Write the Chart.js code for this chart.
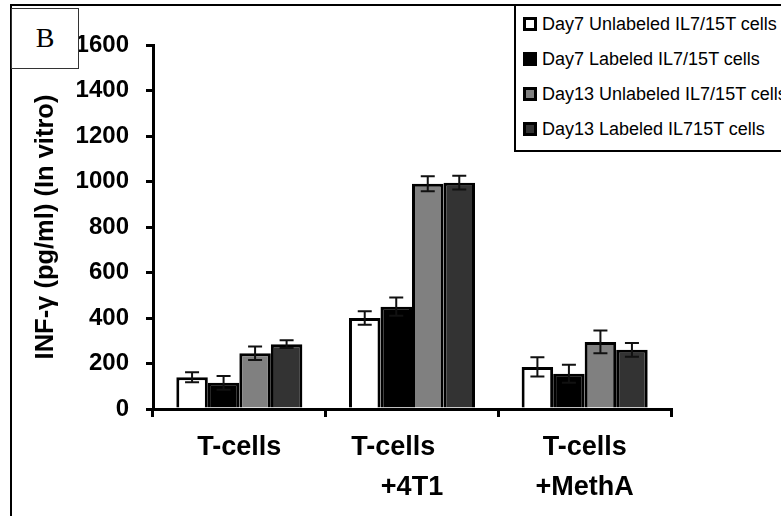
<!DOCTYPE html>
<html>
<head>
<meta charset="utf-8">
<script src="https://cdn.jsdelivr.net/npm/chart.js@4/dist/chart.umd.min.js"></script>
<style>
  html, body { margin: 0; padding: 0; background: #fff; overflow: hidden; }
  #wrap { position: relative; width: 781px; height: 516px; }
  #frame { position: absolute; left: 10px; top: 4px; width: 900px; height: 600px;
           border-left: 2px solid #000; border-top: 2px solid #000; }
  #panel { position: absolute; left: 11px; top: 8px; width: 66px; height: 59px;
           border: 1px solid #333; font: 28px "Liberation Serif", "Times New Roman", serif;
           text-align: center; line-height: 58px; background: #fff; }
  #legend { position: absolute; left: 514px; top: 4px; width: 300px; height: 144px;
            border-left: 2px solid #000; border-bottom: 2px solid #000; border-top: 2px solid #000;
            background: #fff; font: 18px "Liberation Sans", Arial, sans-serif; }
  .item { position: absolute; left: 7px; height: 20px; line-height: 20px; white-space: nowrap; }
  .box { display: inline-block; width: 8px; height: 8px; border: 3px solid #000;
         vertical-align: -1px; margin-right: 5px; }
  canvas { position: absolute; left: 0; top: 0; }
</style>
</head>
<body>
<div id="wrap">
  <canvas id="bar-chart" width="781" height="516"></canvas>
  <div id="frame"></div>
  <div id="panel">B</div>
  <div id="legend"></div>
</div>
<script>
var categories = [["T-cells"], ["T-cells     ", "+4T1"], ["T-cells", "+MethA"]];
var seriesNames = ["Day7 Unlabeled IL7/15T cells", "Day7 Labeled IL7/15T cells",
                   "Day13 Unlabeled IL7/15T cells", "Day13 Labeled IL715T cells"];
var seriesColors = ["#ffffff", "#000000", "#808080", "#333333"];

var day7Unlabeled = [140, 400, 185];
var day7Labeled = [115, 450, 155];
var day13Unlabeled = [245, 990, 295];
var day13Labeled = [285, 995, 260];

var day7UnlabeledErr = [22, 30, 42];
var day7LabeledErr = [30, 40, 40];
var day13UnlabeledErr = [30, 33, 50];
var day13LabeledErr = [17, 30, 30];

var yTicks = [0, 200, 400, 600, 800, 1000, 1200, 1400, 1600];

var values = [day7Unlabeled, day7Labeled, day13Unlabeled, day13Labeled];
var errors = [day7UnlabeledErr, day7LabeledErr, day13UnlabeledErr, day13LabeledErr];

Chart.defaults.font.family = "'Liberation Sans', Arial, sans-serif";
Chart.defaults.color = "#000";

var errorBars = {
  id: "errorBars",
  afterDatasetsDraw: function (chart) {
    var c = chart.ctx;
    var y = chart.scales.y;
    c.save();
    c.strokeStyle = "#111";
    c.lineWidth = 2;
    chart.data.datasets.forEach(function (ds, i) {
      var meta = chart.getDatasetMeta(i);
      meta.data.forEach(function (bar, j) {
        var v = ds.data[j], e = errors[i][j];
        var top = y.getPixelForValue(v + e), bot = y.getPixelForValue(v - e);
        var x = bar.x, w = 7;
        c.beginPath();
        c.moveTo(x, top); c.lineTo(x, bot);
        c.moveTo(x - w, top); c.lineTo(x + w, top);
        c.moveTo(x - w, bot); c.lineTo(x + w, bot);
        c.stroke();
      });
    });
    c.restore();
  }
};

var ctx = document.getElementById("bar-chart");
var chart = new Chart(ctx, {
  type: "bar",
  data: {
    labels: categories,
    datasets: values.map(function (d, i) {
      return {
        label: seriesNames[i],
        data: d,
        backgroundColor: seriesColors[i],
        borderColor: "#000",
        borderWidth: 3,
        categoryPercentage: 0.73,
        barPercentage: 1.0
      };
    })
  },
  options: {
    responsive: false,
    animation: false,
    layout: { padding: { left: 0, top: 45, right: 110, bottom: 0 } },
    plugins: { legend: { display: false }, tooltip: { enabled: false } },
    scales: {
      x: {
        grid: { offset: true, drawOnChartArea: false, tickLength: 8, color: "#000", lineWidth: 3 },
        border: { color: "#000", width: 3 },
        ticks: { font: { size: 27, weight: "bold", lineHeight: 1.48 }, padding: 11, maxRotation: 0 },
        afterFit: function (s) { s.height = 107; }
      },
      y: {
        min: 0, max: 1600,
        afterBuildTicks: function (s) { s.ticks = yTicks.map(function (v) { return { value: v }; }); },
        grid: { drawOnChartArea: false, tickLength: 7, color: "#000", lineWidth: 3 },
        border: { color: "#000", width: 3 },
        ticks: { font: { size: 24, weight: "bold" }, padding: 17,
                 callback: function (v) { return String(v); } },
        title: { display: true, text: "INF-γ (pg/ml) (In vitro)",
                 font: { size: 25.5, weight: "bold" }, padding: { top: 31, bottom: 0 } },
        afterFit: function (s) { s.width = 153; }
      }
    }
  },
  plugins: [errorBars]
});

var legendEl = document.getElementById("legend");
var rowY = [8, 43, 78, 113];
chart.data.datasets.forEach(function (ds, i) {
  var item = document.createElement("div");
  item.className = "item";
  item.style.top = rowY[i] + "px";
  var box = document.createElement("span");
  box.className = "box";
  box.style.background = ds.backgroundColor;
  item.appendChild(box);
  item.appendChild(document.createTextNode(ds.label));
  legendEl.appendChild(item);
});
</script>
</body>
</html>
